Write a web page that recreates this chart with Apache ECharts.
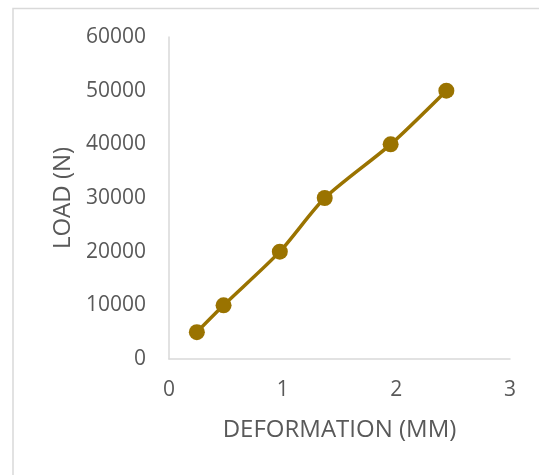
<!DOCTYPE html>
<html>
<head>
<meta charset="utf-8">
<script src="https://cdn.jsdelivr.net/npm/echarts@6/dist/echarts.min.js"></script>
<style>
  html, body { margin: 0; padding: 0; background: #ffffff; }
  #chart { width: 539px; height: 475px; }
</style>
</head>
<body>
<div id="chart"></div>
<script>
// Load–deformation test readings
const deformationMM = [0.245, 0.48, 0.975, 1.37, 1.95, 2.44];
const loadN = [5000, 10000, 20000, 30000, 40000, 50000];
const xTicks = [0, 1, 2, 3];
const yTicks = [0, 10000, 20000, 30000, 40000, 50000, 60000];
const xTitle = 'DEFORMATION (MM)';
const yTitle = 'LOAD (N)';

const points = deformationMM.map((d, i) => [d, loadN[i]]);
const font = '"Open Sans", "Liberation Sans", sans-serif';
const textColor = '#595959';
const lineGold = '#9a7300';

const chart = echarts.init(document.getElementById('chart'), null, { renderer: 'canvas' });
chart.setOption({
  animation: false,
  backgroundColor: '#ffffff',
  graphic: [{
    type: 'rect',
    silent: true,
    shape: { x: 13, y: 8.5, width: 700, height: 700 },
    style: { fill: 'none', stroke: '#d9d9d9', lineWidth: 1.5 }
  }, {
    // vertical axis title, centred beside the plot area
    type: 'text',
    silent: true,
    x: 63,
    y: 198,
    rotation: Math.PI / 2,
    style: {
      text: yTitle,
      fill: textColor,
      font: '24px ' + font,
      align: 'center',
      verticalAlign: 'middle'
    }
  }],
  grid: { left: 169, right: 29, top: 37, bottom: 116 },
  xAxis: {
    type: 'value',
    min: xTicks[0],
    max: xTicks[xTicks.length - 1],
    interval: 1,
    name: xTitle,
    nameLocation: 'middle',
    nameGap: 59,
    nameTextStyle: { color: textColor, fontFamily: font, fontSize: 24 },
    axisLine: { show: true, lineStyle: { color: '#d9d9d9', width: 1.5 } },
    axisTick: { show: false },
    splitLine: { show: false },
    axisLabel: { color: textColor, fontFamily: font, fontSize: 21, margin: 21, formatter: v => String(v) }
  },
  yAxis: {
    type: 'value',
    min: yTicks[0],
    max: yTicks[yTicks.length - 1],
    interval: 10000,
    axisLine: { show: true, lineStyle: { color: '#d9d9d9', width: 1.5 } },
    axisTick: { show: false },
    splitLine: { show: false },
    axisLabel: { color: textColor, fontFamily: font, fontSize: 21, margin: 23, formatter: v => String(v) }
  },
  series: [{
    type: 'line',
    data: points,
    smooth: 0.25,
    symbol: 'circle',
    symbolSize: 16,
    lineStyle: { color: lineGold, width: 3.5 },
    itemStyle: { color: lineGold }
  }]
});
</script>
</body>
</html>
